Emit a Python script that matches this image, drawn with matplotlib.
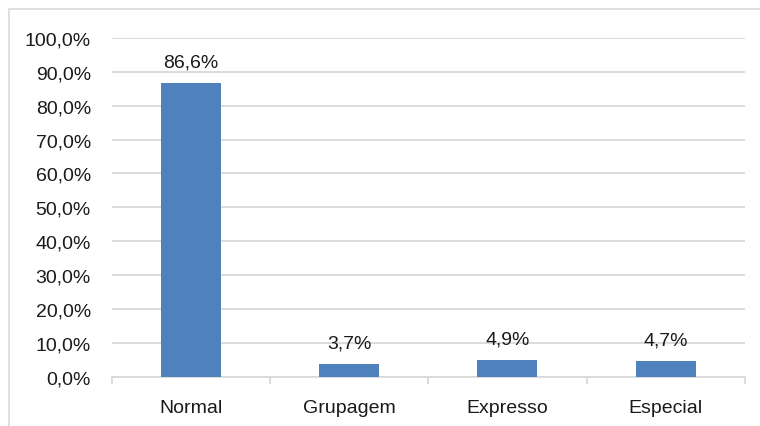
import matplotlib
matplotlib.use("Agg")
import matplotlib.pyplot as plt
from matplotlib.patches import Rectangle
from matplotlib.ticker import MultipleLocator, FuncFormatter

categories = ["Normal", "Grupagem", "Expresso", "Especial"]
values = [86.6, 3.7, 4.9, 4.7]

plt.rcParams["font.family"] = ["Liberation Sans", "DejaVu Sans"]

fig = plt.figure(figsize=(7.6, 4.27), dpi=100)
ax = fig.add_axes([0.147, 0.115, 0.833, 0.794])

bar_color = "#4f81bd"
grid_color = "#d9d9d9"
text_color = "#1a1a1a"

x = list(range(len(categories)))
ax.bar(x, values, width=0.38, color=bar_color, zorder=3)

for xi, v in zip(x, values):
    ax.annotate(f"{v:.1f}%".replace(".", ","), (xi, v),
                xytext=(0, 9), textcoords="offset points",
                ha="center", va="bottom", fontsize=14, color=text_color)

ax.set_ylim(0, 100)
ax.set_xlim(-0.5, len(categories) - 0.5)
ax.yaxis.set_major_locator(MultipleLocator(10))
ax.yaxis.set_major_formatter(FuncFormatter(lambda v, p: f"{v:.1f}%".replace(".", ",")))
ax.yaxis.grid(True, color=grid_color, linewidth=1.3, zorder=0)
ax.set_axisbelow(True)

ax.set_xticks(x)
ax.set_xticklabels(categories)
ax.set_xticks([i - 0.5 for i in range(len(categories) + 1)], minor=True)
ax.tick_params(axis="x", which="major", length=0, pad=16, labelsize=14, colors=text_color)
ax.tick_params(axis="x", which="minor", length=5, color=grid_color, width=1.3)
ax.tick_params(axis="y", length=0, pad=15, labelsize=14, colors=text_color)

for side in ["top", "right", "left"]:
    ax.spines[side].set_visible(False)
ax.spines["bottom"].set_color(grid_color)
ax.spines["bottom"].set_linewidth(1.3)

# outer chart-area frame (runs past the right and bottom edges)
fig.patches.append(Rectangle((9 / 760, -10 / 427), 770 / 760, 427 / 427,
                             transform=fig.transFigure, fill=False,
                             edgecolor="#d9d9d9", linewidth=1.2))

fig.savefig("out.png", dpi=100)
